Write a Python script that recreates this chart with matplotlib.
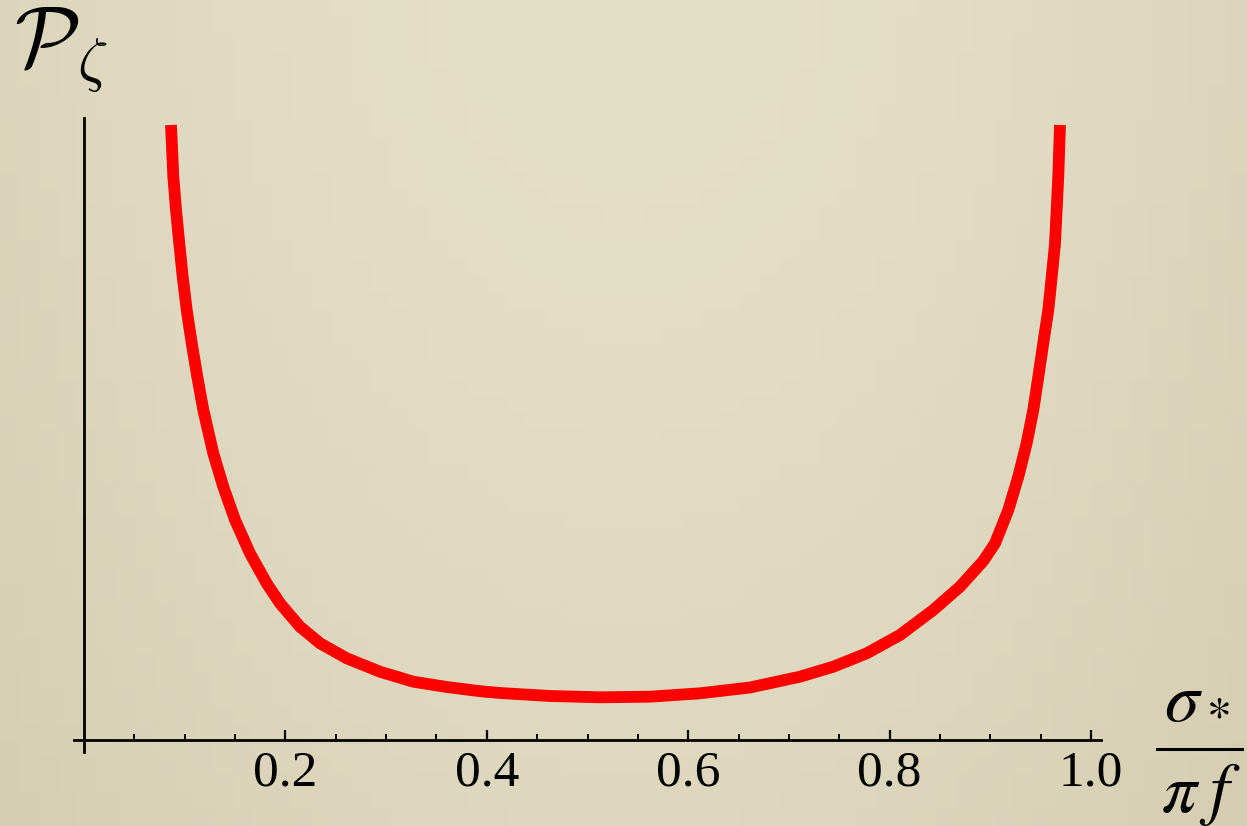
import numpy as np
import matplotlib
matplotlib.use('Agg')
import matplotlib.pyplot as plt
from matplotlib.lines import Line2D
from matplotlib.ticker import FixedLocator

# Data (arbitrary vertical units)
sigma_over_pif = [0.0864, 0.0887, 0.0914, 0.0946, 0.0980, 0.1020, 0.1070, 0.1125,
                  0.1185, 0.1284, 0.1383, 0.1500, 0.1648, 0.1814, 0.1946, 0.2145,
                  0.2344, 0.2609, 0.2939, 0.3270, 0.3602, 0.3932, 0.4131, 0.4628,
                  0.5124, 0.5621, 0.6117, 0.6614, 0.7110, 0.7441, 0.7773, 0.8103,
                  0.8434, 0.8699, 0.8930, 0.9047, 0.9179, 0.9278, 0.9361, 0.9427,
                  0.9477, 0.9526, 0.9576, 0.9610, 0.9643, 0.9675, 0.9692]
P_zeta = [6.15, 5.633, 5.30, 4.967, 4.633, 4.30, 3.967, 3.633,
          3.30, 2.867, 2.533, 2.20, 1.867, 1.567, 1.367, 1.133,
          0.967, 0.817, 0.683, 0.583, 0.530, 0.488, 0.470, 0.440,
          0.427, 0.433, 0.467, 0.525, 0.633, 0.733, 0.867, 1.05,
          1.30, 1.533, 1.790, 1.967, 2.30, 2.633, 2.967, 3.30,
          3.633, 3.967, 4.30, 4.633, 4.967, 5.633, 6.15]
major_ticks = [0.2, 0.4, 0.6, 0.8, 1.0]
major_labels = ['0.2', '0.4', '0.6', '0.8', '1.0']
minor_ticks = [0.05, 0.1, 0.15, 0.25, 0.3, 0.35, 0.45, 0.5, 0.55,
               0.65, 0.7, 0.75, 0.85, 0.9, 0.95]

W, H = 1247, 826
fig = plt.figure(figsize=(W / 100, H / 100), dpi=100)

# textured-paper like background (soft gradient)
bg = fig.add_axes([0, 0, 1, 1])
bg.axis('off')
nx, ny = 64, 48
u = np.linspace(-1, 1, nx)[None, :]
v = np.linspace(0, 1, ny)[:, None]
center = np.array([228, 223, 199]) / 255.0
edge = np.array([214, 206, 178]) / 255.0
wgt = np.clip(0.55 * u ** 2 + 0.45 * v ** 1.5, 0, 1)
img = center[None, None, :] * (1 - wgt[..., None]) + edge[None, None, :] * wgt[..., None]
bg.imshow(img, extent=[0, 1, 0, 1], aspect='auto', origin='upper')
bg.set_xlim(0, 1)
bg.set_ylim(0, 1)

left_px, right_px, top_px, bot_px = 74, 1101, 118, 752
ax = fig.add_axes([left_px / W, 1 - bot_px / H, (right_px - left_px) / W, (bot_px - top_px) / H])
ax.patch.set_alpha(0)

ax.plot(sigma_over_pif, P_zeta, color='#ff0000', lw=8.5, solid_capstyle='butt',
        solid_joinstyle='round', zorder=3)

ax.set_xlim(-10 / 1007, 1017 / 1007)
ax.set_ylim(-0.12, 6.22)

for s in ['top', 'right']:
    ax.spines[s].set_visible(False)
ax.spines['left'].set_position(('data', 0))
ax.spines['bottom'].set_position(('data', 0))
for s in ['left', 'bottom']:
    ax.spines[s].set_linewidth(2.0)
    ax.spines[s].set_color('black')

ax.xaxis.set_major_locator(FixedLocator(major_ticks))
ax.set_xticklabels(major_labels)
ax.xaxis.set_minor_locator(FixedLocator(minor_ticks))
ax.tick_params(axis='x', which='major', direction='in', length=7, width=1.6, pad=7,
               labelsize=37, labelfontfamily='Liberation Serif')
ax.tick_params(axis='x', which='minor', direction='in', length=4.5, width=1.4)
ax.set_yticks([])

# y-axis label
fig.text(14 / W, 1 - 6 / H, r'$\mathcal{P}_{\zeta}$', ha='left', va='top',
         fontsize=62, math_fontfamily='cm', color='black')

# x-axis label: sigma_* / (pi f), built as a stacked fraction
fig.text(1183 / W, 1 - 721 / H, r'$\sigma$', ha='center', va='baseline',
         fontsize=50, math_fontfamily='stix', color='black')
fig.text(1218 / W, 1 - 707 / H, r'$\ast$', ha='center', va='center',
         fontsize=34, math_fontfamily='stix', color='black')
fig.add_artist(Line2D([1157 / W, 1242 / W], [1 - 749 / H, 1 - 749 / H],
                      transform=fig.transFigure, lw=2.2, color='black'))
fig.text(1201 / W, 1 - 812 / H, r'$\pi\;f$', ha='center', va='baseline',
         fontsize=50, math_fontfamily='stix', color='black')

fig.savefig('out.png', dpi=100)
